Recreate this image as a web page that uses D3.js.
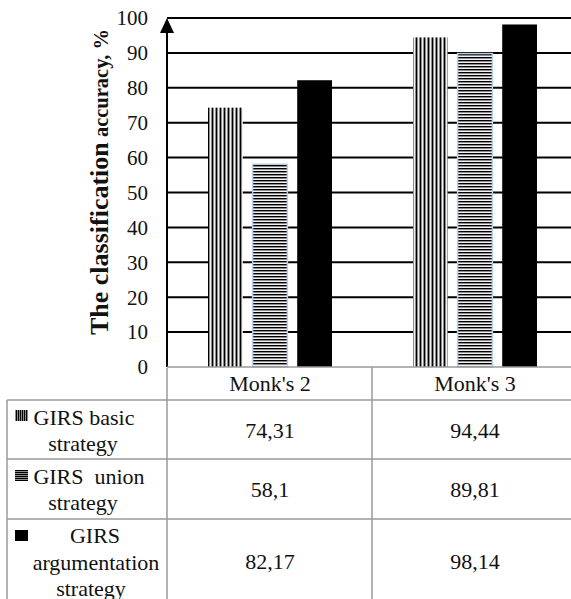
<!DOCTYPE html>
<html>
<head>
<meta charset="utf-8">
<script src="https://cdn.jsdelivr.net/npm/d3@7"></script>
<style>
  html, body { margin: 0; padding: 0; background: #fff; }
  svg { display: block; }
</style>
</head>
<body>
<svg id="chart" width="571" height="599"></svg>
<script>
// Datasets and their accuracy (%) per series
const categories = ["Monk's 2", "Monk's 3"];
const seriesNames = ["basic", "union", "argumentation"];
const basicValues = [74.31, 94.44];
const unionValues = [58.1, 89.81];
const argumentationValues = [82.17, 98.14];
const valueLabels = [["74,31", "94,44"], ["58,1", "89,81"], ["82,17", "98,14"]];
const yTicks = [0, 10, 20, 30, 40, 50, 60, 70, 80, 90, 100];
const legendLines = [["GIRS basic", "strategy"], ["GIRS  union", "strategy"], ["GIRS", "argumentation", "strategy"]];

const series = [basicValues, unionValues, argumentationValues];
const FONT = "Liberation Serif";

const svg = d3.select("#chart");
const W = 571;
const plotLeft = 167, plotRight = 577, plotTop = 18, plotBottom = 367;
const tableLeft = 7, tableBottom = 640;
const rowLines = [400, 459, 519];
const lineGray = "#9a9a9a";

const y = d3.scaleLinear().domain([0, 100]).range([plotBottom, plotTop]);
const x = d3.scaleBand().domain(categories).range([plotLeft, plotRight]);
const xs = d3.scaleBand().domain(seriesNames).range([41, 165]).paddingInner(0.22);

// Fill patterns: bars
const defs = svg.append("defs");
function stripePattern(id, vertical, period) {
  const p = defs.append("pattern").attr("id", id).attr("patternUnits", "userSpaceOnUse")
    .attr("width", vertical ? period : 4).attr("height", vertical ? 4 : period);
  p.append("rect").attr("width", 4 + period).attr("height", 4 + period).attr("fill", "#8c8c8c");
  const dark = p.append("rect").attr("fill", "#000");
  const light = p.append("rect").attr("fill", "#f2f2f2");
  if (vertical) {
    dark.attr("x", 0).attr("width", 1).attr("height", 4);
    if (period > 2) light.attr("x", 2).attr("width", 1).attr("height", 4);
  } else {
    dark.attr("y", 0).attr("height", 1).attr("width", 4);
    if (period > 2) light.attr("y", 2).attr("height", 1).attr("width", 4);
  }
}
stripePattern("pat-vert", true, 4);
stripePattern("pat-horz", false, 3);
stripePattern("sw-vert", true, 2);
stripePattern("sw-horz", false, 2);

const fills = ["url(#pat-vert)", "url(#pat-horz)", "#000"];
const swatchFills = ["url(#sw-vert)", "url(#sw-horz)", "#000"];
const strokes = ["none", "#b9cfe6", "none"];

// Gridlines
svg.append("g").selectAll("line").data(yTicks.filter(d => d > 0)).join("line")
  .attr("x1", plotLeft).attr("x2", W)
  .attr("y1", d => y(d)).attr("y2", d => y(d))
  .attr("stroke", "#000").attr("stroke-width", 2);

// Bars
series.forEach((vals, si) => {
  svg.append("g").selectAll("rect").data(categories).join("rect")
    .attr("x", (c) => x(c) + xs(seriesNames[si]))
    .attr("width", xs.bandwidth())
    .attr("y", (c, i) => y(vals[i]))
    .attr("height", (c, i) => plotBottom - y(vals[i]))
    .attr("fill", fills[si])
    .attr("stroke", strokes[si])
    .attr("stroke-width", 1.5);
});

// Y axis with arrow
svg.append("line").attr("x1", plotLeft).attr("x2", plotLeft)
  .attr("y1", plotTop + 6).attr("y2", plotBottom)
  .attr("stroke", "#000").attr("stroke-width", 2);
svg.append("path")
  .attr("d", `M${plotLeft},${plotTop} L${plotLeft - 7},${plotTop + 15} L${plotLeft + 7},${plotTop + 15} Z`)
  .attr("fill", "#000");

// Tick labels
svg.append("g").selectAll("text").data(yTicks).join("text")
  .attr("x", 148).attr("y", d => y(d)).attr("dy", "0.35em")
  .attr("text-anchor", "end").attr("font-size", 21).attr("fill", "#111")
  .style("font-family", FONT)
  .text(d => d);

// Axis title
const title = svg.append("text")
  .attr("transform", "translate(108,182) rotate(-90)")
  .attr("text-anchor", "middle").attr("font-weight", "bold").attr("fill", "#111")
  .style("font-family", FONT);
title.append("tspan").attr("font-size", 26).text("The classification");
title.append("tspan").attr("font-size", 20.5).text(" accuracy, %");

// Data table grid
const grid = svg.append("g").attr("stroke", lineGray).attr("stroke-width", 1.5);
grid.append("line").attr("x1", plotLeft).attr("x2", W).attr("y1", plotBottom).attr("y2", plotBottom);
rowLines.forEach(r => grid.append("line").attr("x1", tableLeft).attr("x2", W).attr("y1", r).attr("y2", r));
grid.append("line").attr("x1", tableLeft).attr("x2", tableLeft).attr("y1", rowLines[0]).attr("y2", tableBottom);
grid.append("line").attr("x1", plotLeft).attr("x2", plotLeft).attr("y1", plotBottom + 1).attr("y2", tableBottom);
categories.slice(1).forEach(c => grid.append("line").attr("x1", x(c)).attr("x2", x(c)).attr("y1", plotBottom).attr("y2", tableBottom));

// Category header
const groupMid = (xs(seriesNames[0]) + xs(seriesNames[2]) + xs.bandwidth()) / 2;
svg.append("g").selectAll("text").data(categories).join("text")
  .attr("x", c => x(c) + groupMid)
  .attr("y", 383).attr("dy", "0.35em").attr("text-anchor", "middle")
  .attr("font-size", 22).attr("fill", "#111")
  .style("font-family", FONT).text(c => c);

// Value cells
const rowCenters = [430, 489, 561];
valueLabels.forEach((row, ri) => {
  svg.append("g").selectAll("text").data(categories).join("text")
    .attr("x", c => x(c) + groupMid)
    .attr("y", rowCenters[ri]).attr("dy", "0.35em").attr("text-anchor", "middle")
    .attr("font-size", 22).attr("fill", "#111")
    .style("font-family", FONT)
    .text((c, i) => row[i]);
});

// Legend cells
const legendLineY = [[417, 443], [476, 502], [535, 562, 588]];
const legendLineX = [[84, 83], [89, 83], [95, 96, 91]];
legendLines.forEach((lines, ri) => {
  lines.forEach((t, li) => {
    svg.append("text").attr("x", legendLineX[ri][li]).attr("y", legendLineY[ri][li])
      .attr("dy", "0.35em").attr("text-anchor", "middle")
      .attr("font-size", 22).attr("fill", "#111")
      .style("font-family", FONT)
      .style("white-space", "pre").text(t);
  });
});
const swatchY = [410, 470, 530];
swatchY.forEach((sy, i) => {
  svg.append("rect").attr("x", 15).attr("y", sy).attr("width", 13).attr("height", 11)
    .attr("fill", swatchFills[i]);
});
</script>
</body>
</html>
